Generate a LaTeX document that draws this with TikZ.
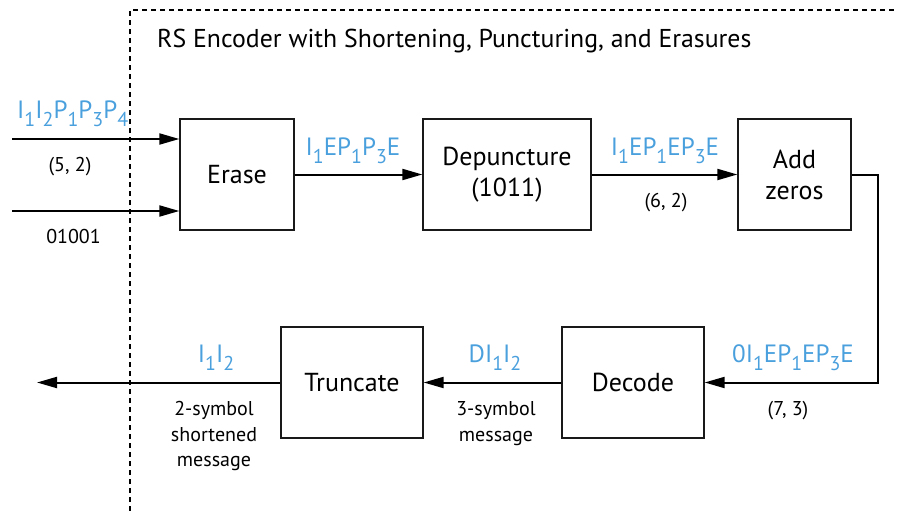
\documentclass[tikz,border=0pt]{standalone}
\usepackage{fontspec}
\setmainfont{PT Sans}
\usetikzlibrary{arrows.meta,calc}
\definecolor{lblblue}{RGB}{74,160,221}
\newcommand\sbs[1]{\raisebox{-8pt}{\fontsize{20}{20}\selectfont #1}}
\begin{document}
\begin{tikzpicture}[x=1pt,y=-1pt,
  box/.style={draw=black!90, line width=1.3pt, minimum height=111pt, inner sep=0pt, align=center, font=\fontsize{26}{31}\selectfont},
  arr/.style={line width=2pt, -{Triangle[length=20pt,width=11pt]}},
  sig/.style={text=lblblue, font=\fontsize{25}{25}\selectfont, inner sep=0pt, anchor=base},
  note/.style={font=\fontsize{20}{26}\selectfont, inner sep=0pt, anchor=base},
  bound/.style={line width=1.1pt, dash pattern=on 5pt off 4pt}]
\useasboundingbox (0,0) rectangle (897,511);
% boundary
\coordinate (dbl) at (130,511);
\coordinate (dtl) at (130,10);
\coordinate (dtr) at (897,10);
\draw[bound] (dbl) -- (dtl) -- (dtr);
\node[font=\fontsize{25.8}{26}\selectfont, anchor=base west, inner sep=0pt] (title) at (157,48) {RS Encoder with Shortening, Puncturing, and Erasures};
% boxes
\node[box, minimum width=114pt] (erase) at (237,174.5) {Erase};
\node[box, minimum width=168pt] (dep) at (507,174.5) {Depuncture\\(1011)};
\node[box, minimum width=113pt] (addz) at (794.5,174.5) {Add\\zeros};
\node[box, minimum width=142pt] (trunc) at (352,382.5) {Truncate};
\node[box, minimum width=142pt] (dec) at (633,382.5) {Decode};
% connectors
\coordinate (in1) at (12,139);
\coordinate (in2) at (12,211);
\coordinate (rt) at (878,0);
\coordinate (out) at (37,382.5);
\draw[arr] (in1) -- (in1 -| erase.west);
\draw[arr] (in2) -- (in2 -| erase.west);
\draw[arr] (erase.east) -- (dep.west);
\draw[arr] (dep.east) -- (addz.west);
\draw[arr] (addz.east) -- (addz.east -| rt) |- (dec.east);
\draw[arr] (dec.west) -- (trunc.east);
\draw[arr] (trunc.west) -- (out);
% signal labels
\node[sig, anchor=base west] (s1) at (17,118) {I\sbs1I\sbs2P\sbs1P\sbs3P\sbs4};
\node[sig] (s2) at (353,155) {I\sbs1EP\sbs1P\sbs3E};
\node[sig] (s3) at (665,155) {I\sbs1EP\sbs1EP\sbs3E};
\node[sig] (s4) at (793,362) {0I\sbs1EP\sbs1EP\sbs3E};
\node[sig] (s5) at (495,362) {DI\sbs1I\sbs2};
\node[sig] (s6) at (216,362) {I\sbs1I\sbs2};
% notes
\node[note] (n1) at (70,171) {(5, 2)};
\node[note] (n2) at (73.5,243) {01001};
\node[note] (n3) at (666,207) {(6, 2)};
\node[note] (n4) at (788,415) {(7, 3)};
\node[note] (n5a) at (214,415) {2-symbol};
\node[note] (n5b) at (214,441) {shortened};
\node[note] (n5c) at (214,466) {message};
\node[note] (n6a) at (496,415) {3-symbol};
\node[note] (n6b) at (496,441) {message};
\end{tikzpicture}
\end{document}
